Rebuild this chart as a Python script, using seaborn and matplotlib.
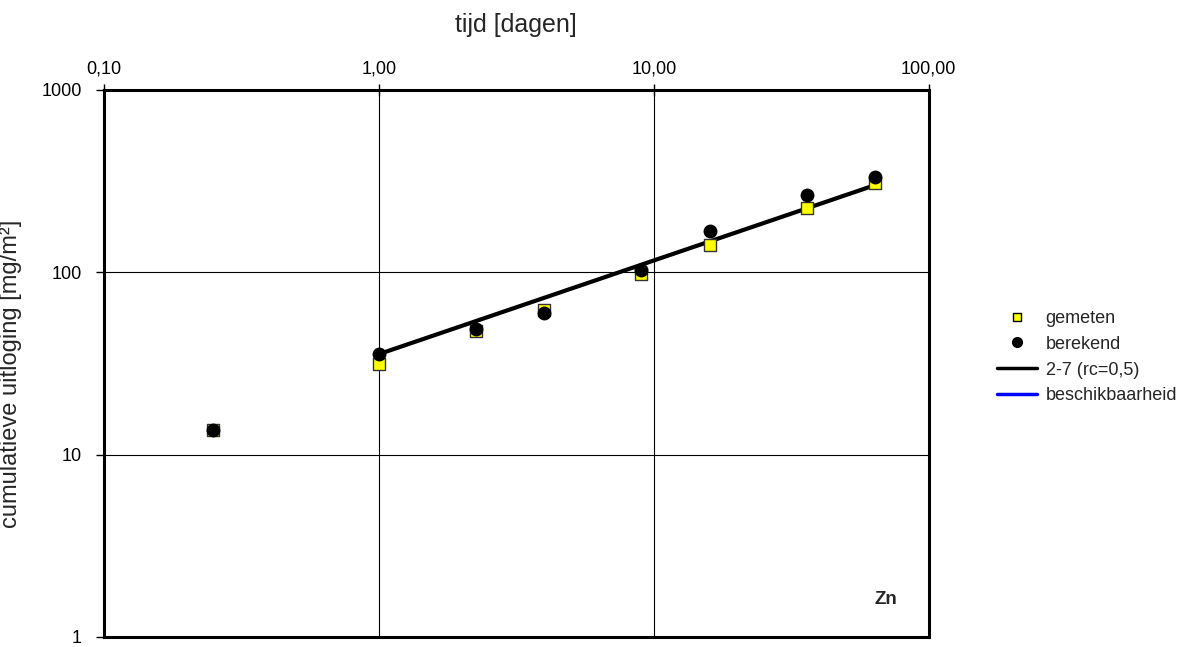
import matplotlib
matplotlib.use("Agg")
import matplotlib.pyplot as plt
import matplotlib.ticker as mticker
from matplotlib.lines import Line2D
import pandas as pd
import seaborn as sns

# measured / calculated leaching per time step
tijd = [0.25, 1.0, 2.25, 4.0, 9.0, 16.0, 36.0, 64.0]
gemeten = [13.7, 31.5, 47.5, 62.0, 97.5, 140.0, 225.0, 308.0]
berekend = [13.7, 35.5, 48.5, 60.0, 103.0, 167.0, 263.0, 333.0]

# fitted line 2-7 (rc=0,5)
lijn_tijd = [1.0, 64.0]
lijn_waarde = [35.5, 300.0]

x_ticks = [0.1, 1, 10, 100]
x_labels = ["0,10", "1,00", "10,00", "100,00"]
y_ticks = [1, 10, 100, 1000]
y_labels = ["1", "10", "100", "1000"]

sns.set_theme(style="white")
plt.rcParams["font.family"] = ["Liberation Sans", "DejaVu Sans"]

df = pd.DataFrame({"tijd": tijd, "gemeten": gemeten, "berekend": berekend})
lijn = pd.DataFrame({"tijd": lijn_tijd, "waarde": lijn_waarde})

fig = plt.figure(figsize=(11.89, 6.47), dpi=100)
ax = fig.add_axes([0.0875, 0.0155, 0.6935, 0.846])

sns.lineplot(data=lijn, x="tijd", y="waarde", color="black", linewidth=3, ax=ax, zorder=3)
sns.scatterplot(data=df, x="tijd", y="gemeten", marker="s", s=85, color="#ffff00",
                edgecolor="#333333", linewidth=1, ax=ax, zorder=4)
sns.scatterplot(data=df, x="tijd", y="berekend", marker="o", s=100, color="black",
                edgecolor="black", linewidth=0, ax=ax, zorder=5)

ax.set_xscale("log")
ax.set_yscale("log")
ax.set_xlim(0.1, 100)
ax.set_ylim(1, 1000)

ax.xaxis.set_major_locator(mticker.FixedLocator(x_ticks))
ax.xaxis.set_major_formatter(mticker.FixedFormatter(x_labels))
ax.xaxis.set_minor_locator(mticker.NullLocator())
ax.yaxis.set_major_locator(mticker.FixedLocator(y_ticks))
ax.yaxis.set_major_formatter(mticker.FixedFormatter(y_labels))
ax.yaxis.set_minor_locator(mticker.NullLocator())

ax.xaxis.tick_top()
ax.xaxis.set_label_position("top")
ax.tick_params(axis="x", which="major", direction="inout", length=8, width=1,
               color="black", labelsize=13, labelcolor="black", pad=5,
               bottom=False, top=True)
ax.tick_params(axis="y", which="major", direction="out", length=6, width=1,
               color="black", labelsize=13, labelcolor="black", pad=10, left=True)

ax.grid(True, which="major", color="black", linewidth=0.8)
for sp in ax.spines.values():
    sp.set_color("black")
    sp.set_linewidth(2.2)

ax.set_xlabel("tijd [dagen]", fontsize=18, labelpad=20)
ax.set_ylabel("cumulatieve uitloging [mg/m²]", fontsize=17)
ax.yaxis.set_label_coords(-0.1, 0.48)

ax.text(0.962, 0.068, "Zn", transform=ax.transAxes, fontsize=13.5, fontweight="bold",
        ha="right", va="center")

handles = [
    Line2D([], [], marker="s", color="none", markerfacecolor="#ffff00",
           markeredgecolor="black", markersize=6, label="gemeten"),
    Line2D([], [], marker="o", color="none", markerfacecolor="black",
           markeredgecolor="black", markersize=7, label="berekend"),
    Line2D([], [], color="black", linewidth=2.5, label="2-7 (rc=0,5)"),
    Line2D([], [], color="blue", linewidth=2.5, label="beschikbaarheid"),
]
fig.legend(handles=handles, loc="upper left", bbox_to_anchor=(0.8385, 0.521),
           frameon=False, fontsize=13, handlelength=2.2, handletextpad=0.5,
           labelspacing=0.49, borderpad=0, borderaxespad=0)

fig.savefig("out.png", dpi=100)
